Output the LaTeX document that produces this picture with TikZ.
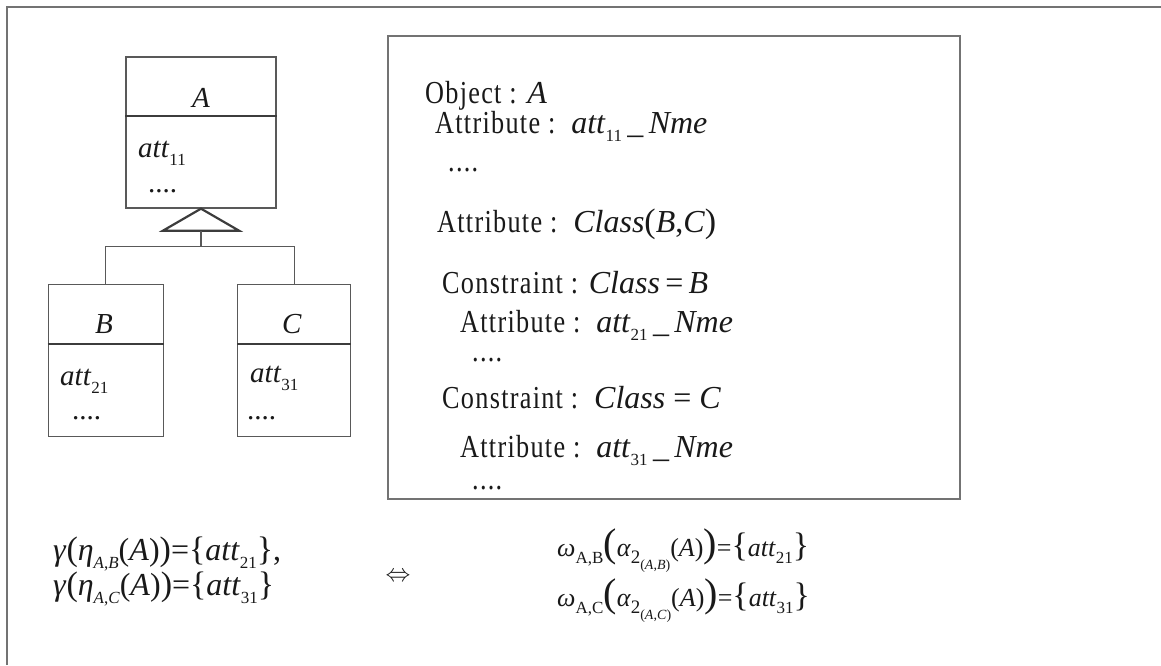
\documentclass[tikz,border=0pt]{standalone}
\usepackage{fontspec}
\setmainfont{Liberation Serif}
\newfontfamily\kwfont[FakeStretch=0.82, LetterSpace=4]{Liberation Serif}
\usepackage{tikz}
\usetikzlibrary{calc}

\definecolor{framegray}{gray}{0.45}
\definecolor{linegray}{gray}{0.35}
\definecolor{ink}{gray}{0.1}

\newcommand{\kw}[1]{{\kwfont #1}}
\newcommand{\sub}[1]{\raisebox{-0.28em}{\fontsize{17}{17}\selectfont #1}}
\newcommand{\osub}[1]{\raisebox{-0.3em}{\fontsize{19}{19}\selectfont #1}}
\newcommand{\ssub}[1]{\raisebox{-0.3em}{\fontsize{14}{14}\selectfont #1}}
\newcommand{\bigp}[1]{{\fontsize{34}{34}\selectfont #1}}
\newcommand{\hugep}[1]{{\fontsize{40}{40}\selectfont #1}}

\tikzset{
  classbox/.style={draw=linegray, line width=1.3pt, inner sep=0pt},
  sepline/.style={draw=ink!85, line width=2.2pt},
  link/.style={draw=linegray, line width=1.3pt},
  txt/.style={anchor=base west, inner sep=0pt, text=ink, font=\fontsize{29}{34}\selectfont},
  spectxt/.style={txt, font=\fontsize{32}{36}\selectfont},
}

\begin{document}
\begin{tikzpicture}[x=1pt, y=-1pt]
\useasboundingbox (0,0) rectangle (1161,665);
% draws frame
\draw[framegray, line width=2pt] (7,665) -- (7,7) -- (1161,7);

% draws class boxes
\node[classbox, minimum width=150pt, minimum height=151pt] (A) at (201,132.5) {};
\node[classbox, minimum width=115pt, minimum height=152pt] (B) at (105.8,360.7) {};
\node[classbox, minimum width=113pt, minimum height=152pt] (C) at (294.3,360.7) {};
\draw[sepline] ($(A.north west)+(0,60)$) -- ($(A.north east)+(0,60)$);
\draw[sepline] ($(B.north west)+(0,60)$) -- ($(B.north east)+(0,60)$);
\draw[sepline] ($(C.north west)+(0,60)$) -- ($(C.north east)+(0,60)$);

% labels classes
\node[txt, anchor=base] (Aname) at (201,107) {\textit{A}};
\node[txt] (Aatt) at (138,157) {\textit{att}\sub{11}};
\node[txt] (Adots) at (148,192) {....};
\node[txt, anchor=base] (Bname) at (104,333) {\textit{B}};
\node[txt] (Batt) at (60,385) {\textit{att}\sub{21}};
\node[txt] (Bdots) at (72,419) {....};
\node[txt, anchor=base] (Cname) at (292,333) {\textit{C}};
\node[txt] (Catt) at (250,382) {\textit{att}\sub{31}};
\node[txt] (Cdots) at (247,419) {....};

% draws inheritance
\coordinate (tribase) at ($(A.south)+(0,22)$);
\coordinate (fork) at ($(A.south)+(0,38)$);
\draw[ink!85, line width=2.2pt] (A.south) -- ++(-38,22) -- ++(76,0) -- cycle;
\draw[link] (tribase) -- (fork);
\draw[link] (fork) -| (B.north);
\draw[link] (fork) -| (C.north);

% draws specification
\node[classbox, draw=framegray, minimum width=572pt, minimum height=463pt] (spec) at (674,267.5) {};
\node[spectxt] (obj) at (425,103) {\kw{Object :} \textit{A}};
\node[spectxt] (attr1) at (435,133) {\kw{Attribute :}\enspace\textit{att}\sub{11}\,\_\,\textit{Nme}};
\node[spectxt] (dots1) at (448,171) {\kw{....}};
\node[spectxt] (attr2) at (437,232) {\kw{Attribute :}\enspace\textit{Class}\bigp{(}\textit{B},\textit{C}\bigp{)}};
\node[spectxt] (cons1) at (442,293) {\kw{Constraint :} \textit{Class}\,=\,\textit{B}};
\node[spectxt] (attr3) at (460,332) {\kw{Attribute :}\enspace\textit{att}\sub{21}\,\_\,\textit{Nme}};
\node[spectxt] (dots2) at (472,361) {\kw{....}};
\node[spectxt] (cons2) at (442,408) {\kw{Constraint :}\ \ \textit{Class} = \textit{C}};
\node[spectxt] (attr4) at (460,457) {\kw{Attribute :}\enspace\textit{att}\sub{31}\,\_\,\textit{Nme}};
\node[spectxt] (dots3) at (472,489) {\kw{....}};

% formulas
\node[spectxt] (gamB) at (53,560) {\textit{γ}\bigp{(}\textit{η}\sub{\textit{A},\textit{B}}(\textit{A})\bigp{)}=\bigp{\{}\textit{att}\sub{21}\bigp{\}},};
\node[spectxt] (gamC) at (53,595) {\textit{γ}\bigp{(}\textit{η}\sub{\textit{A},\textit{C}}(\textit{A})\bigp{)}=\bigp{\{}\textit{att}\sub{31}\bigp{\}}};
\node[txt, anchor=center, font=\fontsize{28}{28}\selectfont] (iff) at (398,577) {$\Leftrightarrow$};
\node[txt, font=\fontsize{26}{30}\selectfont] (omB) at (557,556) {\textit{ω}\sub{A,B}\hugep{(}\textit{α}\osub{2\ssub{(\textit{A},\textit{B})}}(\textit{A})\hugep{)}=\bigp{\{}\textit{att}\sub{21}\bigp{\}}};
\node[txt, font=\fontsize{26}{30}\selectfont] (omC) at (557,606) {\textit{ω}\sub{A,C}\hugep{(}\textit{α}\osub{2\ssub{(\textit{A},\textit{C})}}(\textit{A})\hugep{)}=\bigp{\{}\textit{att}\sub{31}\bigp{\}}};
\end{tikzpicture}
\end{document}
